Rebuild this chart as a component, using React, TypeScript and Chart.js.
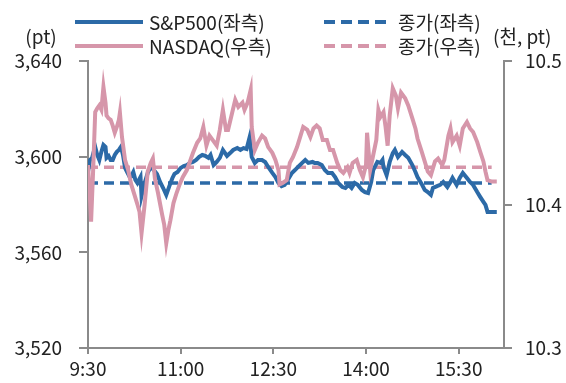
import React, { useEffect, useRef } from "react";
import { Chart, registerables } from "chart.js";

Chart.register(...registerables);

// minutes since 9:30
const xTickMinutes = [0, 90, 180, 270, 360];
const xTickLabels = ["9:30", "11:00", "12:30", "14:00", "15:30"];

const spxTimes = [
  0, 2, 4, 6, 7, 9, 11, 13, 15, 17,
  18, 20, 22, 24, 26, 28, 30, 32, 34, 36,
  38, 41, 44, 46, 48, 51, 52, 55, 58, 61,
  64, 67, 70, 73, 76, 79, 82, 84, 87, 90,
  93, 96, 99, 102, 105, 108, 111, 114, 117, 119,
  122, 125, 128, 131, 135, 138, 141, 145, 148, 151,
  154, 157, 159, 162, 165, 169, 172, 175, 179, 182,
  185, 188, 191, 194, 198, 201, 204, 208, 211, 214,
  218, 220, 223, 227, 230, 233, 237, 240, 243, 247,
  250, 253, 256, 259, 262, 266, 269, 272, 275, 277,
  281, 284, 286, 287, 290, 293, 296, 298, 301, 305,
  308, 311, 315, 318, 320, 324, 327, 330, 333, 335,
  339, 342, 345, 349, 352, 354, 358, 361, 364, 368,
  371, 374, 378, 381, 384, 386, 388, 392, 397,
];
const spxValues = [
  3593.6, 3598.6, 3599.5, 3602.8, 3604.1, 3600.7, 3598.6, 3602.0, 3604.9, 3604.1,
  3599.5, 3600.3, 3598.6, 3598.6, 3600.7, 3602.0, 3602.8, 3604.1, 3600.7, 3595.3,
  3593.6, 3591.1, 3593.6, 3590.3, 3589.0, 3591.5, 3583.6, 3589.0, 3593.2, 3595.7,
  3594.4, 3592.8, 3589.4, 3586.9, 3584.0, 3587.7, 3591.1, 3592.8, 3593.6, 3595.3,
  3596.1, 3596.5, 3597.4, 3597.8, 3598.6, 3599.9, 3600.7, 3600.3, 3599.5, 3600.7,
  3596.5, 3597.8, 3599.5, 3602.8, 3600.3, 3601.5, 3602.8, 3603.6, 3602.8, 3603.6,
  3603.2, 3608.2, 3599.9, 3597.4, 3598.6, 3598.6, 3597.8, 3595.7, 3593.2, 3591.5,
  3589.0, 3587.7, 3588.2, 3590.3, 3593.2, 3594.4, 3595.7, 3597.4, 3598.6, 3597.4,
  3597.8, 3597.4, 3597.4, 3596.5, 3594.4, 3593.2, 3593.2, 3591.5, 3589.0, 3587.3,
  3586.9, 3588.2, 3586.9, 3589.0, 3588.2, 3586.1, 3585.2, 3584.8, 3589.4, 3594.4,
  3597.8, 3597.4, 3598.6, 3595.7, 3592.3, 3597.8, 3601.5, 3602.8, 3599.9, 3602.0,
  3600.7, 3599.5, 3596.5, 3593.6, 3591.5, 3588.6, 3586.1, 3585.2, 3584.0, 3586.9,
  3587.7, 3588.2, 3589.4, 3587.3, 3589.4, 3591.1, 3588.2, 3591.1, 3593.2, 3591.1,
  3589.4, 3588.2, 3585.2, 3583.1, 3581.1, 3579.8, 3576.9, 3576.9, 3576.9,
];

const ndqTimes = [
  0, 2, 3, 5, 7, 9, 11, 13, 15, 17,
  18, 20, 22, 24, 26, 28, 30, 31, 33, 36,
  39, 42, 45, 48, 50, 52, 55, 58, 61, 63,
  65, 68, 72, 74, 76, 78, 80, 83, 86, 89,
  92, 96, 99, 102, 106, 109, 112, 115, 118, 121,
  125, 128, 131, 134, 136, 140, 143, 146, 150, 152,
  155, 158, 159, 162, 165, 169, 172, 175, 179, 182,
  185, 186, 189, 193, 196, 199, 203, 206, 209, 213,
  216, 219, 222, 225, 228, 232, 235, 238, 242, 245,
  248, 252, 254, 257, 261, 264, 267, 270, 271, 274,
  277, 280, 282, 284, 287, 289, 291, 293, 296, 299,
  301, 304, 308, 311, 315, 318, 320, 324, 327, 330,
  333, 337, 340, 344, 346, 350, 352, 354, 358, 361,
  364, 368, 371, 374, 378, 381, 384, 386, 388, 392,
  397,
];
const ndqValues = [
  10.4275, 10.403, 10.388, 10.424, 10.4645, 10.467, 10.469, 10.466, 10.482, 10.471,
  10.462, 10.46, 10.459, 10.455, 10.45, 10.454, 10.459, 10.464, 10.447, 10.431,
  10.424, 10.414, 10.407, 10.4, 10.395, 10.38, 10.4, 10.423, 10.429, 10.432,
  10.418, 10.408, 10.393, 10.386, 10.373, 10.382, 10.389, 10.401, 10.408, 10.414,
  10.419, 10.424, 10.43, 10.436, 10.443, 10.446, 10.454, 10.441, 10.448, 10.445,
  10.441, 10.452, 10.466, 10.452, 10.452, 10.464, 10.473, 10.468, 10.471, 10.466,
  10.471, 10.48, 10.454, 10.438, 10.443, 10.448, 10.446, 10.44, 10.436, 10.431,
  10.424, 10.414, 10.415, 10.417, 10.429, 10.433, 10.44, 10.447, 10.454, 10.452,
  10.447, 10.453, 10.455, 10.453, 10.445, 10.445, 10.438, 10.438, 10.429, 10.424,
  10.422, 10.426, 10.422, 10.429, 10.431, 10.424, 10.419, 10.4275, 10.45, 10.424,
  10.4345, 10.445, 10.466, 10.461, 10.4645, 10.454, 10.441, 10.462, 10.481, 10.476,
  10.467, 10.478, 10.474, 10.469, 10.46, 10.453, 10.446, 10.437, 10.43, 10.423,
  10.4205, 10.43, 10.432, 10.4275, 10.431, 10.448, 10.453, 10.4435, 10.448, 10.441,
  10.453, 10.4575, 10.453, 10.4505, 10.4435, 10.4366, 10.43, 10.423, 10.417, 10.416,
  10.416,
];

// previous close reference lines
const closeTimes = [0, 392];
const spxClose = [3589, 3589];
const ndqClose = [10.426, 10.426];

const BLUE = "#2c6aa7";
const PINK = "#d696aa";
const AXIS = "#8a8a8a";
const TEXT = "#222222";
const FONT = "'Noto Sans CJK KR', 'Noto Sans', sans-serif";

const zip = (t: number[], v: number[]) => t.map((x, i) => ({ x, y: v[i] }));

const legendPlugin = {
  id: "customLegend",
  afterDraw(chart: any) {
    const ctx = chart.ctx;
    ctx.save();
    ctx.font = `19px ${FONT}`;
    ctx.fillStyle = TEXT;
    ctx.textBaseline = "middle";
    const items = [
      { x: 75, y: 22, color: BLUE, dash: [], text: "S&P500(좌측)" },
      { x: 75, y: 46, color: PINK, dash: [], text: "NASDAQ(우측)" },
      { x: 324, y: 22, color: BLUE, dash: [11, 6], text: "종가(좌측)" },
      { x: 324, y: 46, color: PINK, dash: [11, 6], text: "종가(우측)" },
    ];
    for (const it of items) {
      ctx.beginPath();
      ctx.setLineDash(it.dash);
      ctx.strokeStyle = it.color;
      ctx.lineWidth = 4;
      ctx.moveTo(it.x, it.y);
      ctx.lineTo(it.x + 68, it.y);
      ctx.stroke();
      ctx.setLineDash([]);
      ctx.textAlign = "left";
      ctx.fillText(it.text, it.x + 74, it.y + 1);
    }
    ctx.textAlign = "center";
    ctx.fillText("(pt)", 41, 37);
    ctx.textAlign = "left";
    ctx.fillText("(천, pt)", 493, 37);
    ctx.restore();
  },
};

export default function App() {
  const ref = useRef<HTMLCanvasElement>(null);
  useEffect(() => {
    if (!ref.current) return;
    const chart = new Chart(ref.current, {
      type: "line",
      data: {
        datasets: [
          {
            label: "NASDAQ(우측)",
            data: zip(ndqTimes, ndqValues),
            yAxisID: "y2",
            borderColor: PINK,
            borderWidth: 4,
            pointRadius: 0,
            tension: 0,
            order: 0,
          },
          {
            label: "S&P500(좌측)",
            data: zip(spxTimes, spxValues),
            yAxisID: "y",
            borderColor: BLUE,
            borderWidth: 4,
            pointRadius: 0,
            tension: 0,
            order: 1,
          },
          {
            label: "종가(우측)",
            data: zip(closeTimes, ndqClose),
            yAxisID: "y2",
            borderColor: PINK,
            borderWidth: 3.5,
            borderDash: [10, 6],
            pointRadius: 0,
            order: 2,
          },
          {
            label: "종가(좌측)",
            data: zip(closeTimes, spxClose),
            yAxisID: "y",
            borderColor: BLUE,
            borderWidth: 3.5,
            borderDash: [10, 6],
            pointRadius: 0,
            order: 3,
          },
        ],
      },
      options: {
        animation: false,
        responsive: false,
        layout: { padding: { top: 61, left: 0, right: 0, bottom: 0 } },
        plugins: { legend: { display: false }, tooltip: { enabled: false } },
        scales: {
          x: {
            type: "linear",
            min: 0,
            max: 404,
            afterBuildTicks: (s: any) => {
              s.ticks = xTickMinutes.map((v) => ({ value: v }));
            },
            afterFit: (s: any) => {
              s.height = 35;
            },
            ticks: {
              autoSkip: false,
              maxRotation: 0,
              padding: 3,
              color: TEXT,
              font: { family: FONT, size: 19 },
              callback: (v: any) => {
                const i = xTickMinutes.indexOf(Number(v));
                return i >= 0 ? xTickLabels[i] : "";
              },
            },
            grid: { drawOnChartArea: false, drawTicks: true, tickLength: 6, color: AXIS, lineWidth: 2 },
            border: { display: true, color: AXIS, width: 2 },
          },
          y: {
            position: "left",
            min: 3520,
            max: 3640,
            afterFit: (s: any) => {
              s.width = 88;
            },
            ticks: {
              stepSize: 40,
              padding: 17,
              color: TEXT,
              font: { family: FONT, size: 19 },
              callback: (v: any) => Number(v).toLocaleString("en-US"),
            },
            grid: { drawOnChartArea: false, drawTicks: true, tickLength: 9, color: AXIS, lineWidth: 2 },
            border: { display: true, color: AXIS, width: 2 },
          },
          y2: {
            position: "right",
            min: 10.3,
            max: 10.5,
            afterFit: (s: any) => {
              s.width = 62;
            },
            ticks: {
              stepSize: 0.1,
              padding: 13,
              color: TEXT,
              font: { family: FONT, size: 19 },
              callback: (v: any) => Number(v).toFixed(1),
            },
            grid: { drawOnChartArea: false, drawTicks: true, tickLength: 8, color: AXIS, lineWidth: 2 },
            border: { display: true, color: AXIS, width: 2 },
          },
        },
      },
      plugins: [legendPlugin],
    });
    return () => chart.destroy();
  }, []);
  return (
    <div style={{ position: "absolute", left: 0, top: 0, width: 566, height: 383, background: "#fff" }}>
      <canvas ref={ref} width={566} height={383} style={{ display: "block" }} />
    </div>
  );
}
